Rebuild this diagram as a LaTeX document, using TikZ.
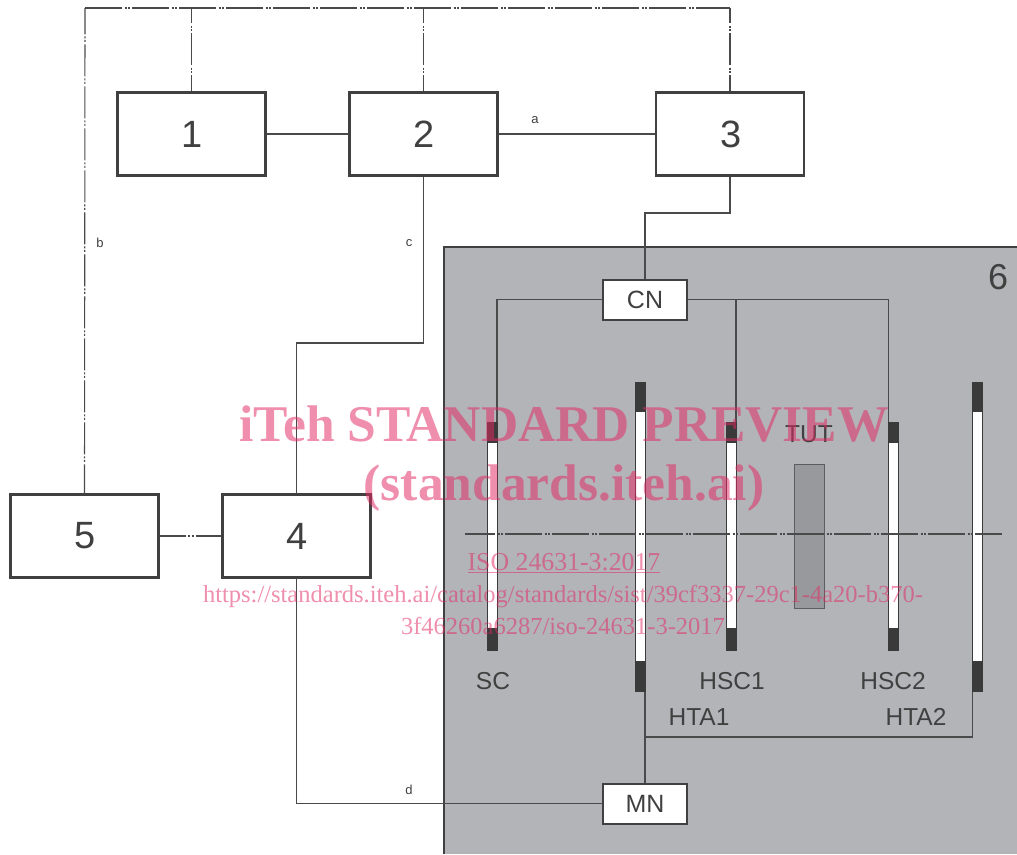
\documentclass[tikz,border=0pt]{standalone}
\usepackage{fontspec}
\setmainfont{Liberation Sans}
\newfontfamily\wmfont{Liberation Serif}
\definecolor{ink}{HTML}{404040}
\definecolor{wire}{HTML}{4A4A4A}
\definecolor{regiongray}{HTML}{B3B4B8}
\definecolor{tutgray}{HTML}{98999C}
\definecolor{wm}{HTML}{E32862}
\tikzset{
  blockbox/.style={draw=ink,line width=2.4pt,fill=white,text=ink,minimum width=148pt,minimum height=83pt,inner sep=0pt,font=\fontsize{38}{40}\selectfont},
  smallbox/.style={draw=ink,line width=2pt,fill=white,text=ink,minimum width=84pt,minimum height=40pt,inner sep=0pt,font=\fontsize{25}{28}\selectfont},
  wire/.style={draw=wire,line width=1.1pt},
  phantomh/.style={draw=wire,line width=1.1pt,dash pattern=on 37pt off 2.5pt on 2pt off 1.5pt on 2pt off 2pt},
  phantomv/.style={draw=wire,line width=1.1pt,dash pattern=on 32pt off 2.5pt on 2pt off 1.5pt on 2pt off 2pt},
  tag/.style={text=ink,inner sep=0pt,font=\fontsize{13}{15}\selectfont},
  devlabel/.style={text=ink,inner sep=0pt,font=\fontsize{24.5}{27}\selectfont},
  caps/.style={fill=ink!90!black},
  wmtext/.style={text=wm,text opacity=0.52,inner sep=0pt,font=\wmfont\fontsize{24.5}{27}\selectfont},
  wmbig/.style={text=wm,text opacity=0.52,inner sep=0pt,font=\wmfont\bfseries\fontsize{51.5}{54}\selectfont}
}
\begin{document}
\begin{tikzpicture}[x=1pt,y=-1pt]
\useasboundingbox (0,0) rectangle (1017,854);
\fill[white] (0,0) rectangle (1017,854);
% enclosure 6
\node[fill=regiongray,minimum width=573pt,minimum height=607pt,inner sep=0pt,outer sep=0pt] (region) at (730.5,550.5) {};
\draw[ink,line width=2pt] (region.south west) -- (region.north west) -- (region.north east);
\node[text=ink,inner sep=0pt,font=\fontsize{36}{38}\selectfont] (six) at (998,277) {6};

% bars
\foreach \nm/\xa/\ya/\yb/\yc/\yd in {sc/487/422/443/628/651,hta1/635/382/412/661/692,hsc1/726/422/443/628/651,hsc2/888/422/443/628/651,hta2/972/382/412/661/692}{
  \fill[ink!90!black] (\xa,\yb) rectangle (\xa+10.5,\yc);
  \fill[white] (\xa+0.8,\yb) rectangle (\xa+9.7,\yc);
  \fill[caps] (\xa,\ya) rectangle (\xa+10.5,\yb);
  \fill[caps] (\xa,\yc) rectangle (\xa+10.5,\yd);
}
\coordinate (scT) at (497,422);
\coordinate (hsc1T) at (736,422);
\coordinate (hsc2T) at (888.5,422);
\coordinate (hta1B) at (645,692);
\coordinate (hta2B) at (972.5,692);
\coordinate (axisL) at (465,534);
\coordinate (axisR) at (1002,534);
\coordinate (topL) at (85,8);
\coordinate (topR) at (730,8);

% TUT
\node[draw=ink!85,line width=1pt,fill=tutgray,minimum width=30pt,minimum height=144pt,inner sep=0pt] (tut) at (809.5,536) {};
\node[devlabel] (tutl) at (809,434) {TUT};
\node[devlabel] (scl) at (493,681) {SC};
\node[devlabel] (hsc1l) at (732,681) {HSC1};
\node[devlabel] (hsc2l) at (893,681) {HSC2};
\node[devlabel] (hta1l) at (699,717) {HTA1};
\node[devlabel] (hta2l) at (916,717) {HTA2};

% axis
\draw[phantomh,dash phase=7pt] (axisL) -- (axisR);

% boxes
\node[blockbox] (b1) at (191.5,134) {\hspace{1.5pt}1};
\node[blockbox] (b2) at (423.5,134) {\hspace{1.5pt}2};
\node[blockbox] (b3) at (730,134) {\hspace{1.5pt}3};
\node[blockbox] (b4) at (296.5,536) {\hspace{1.5pt}4};
\node[blockbox] (b5) at (84.5,536) {\hspace{1.5pt}5};
\node[smallbox] (cn) at (645,299.5) {CN};
\node[smallbox] (mn) at (645,803.5) {MN};

% solid connectors
\draw[wire] (b1.east) -- (b2.west);
\draw[wire] (b2.east) -- (b3.west);
\draw[wire] (b3.south) |- (645,213) -- (cn.north);
\draw[wire] (cn.west) -| (scT);
\draw[wire] (cn.east) -| (hsc2T);
\draw[wire] (hsc1T |- cn.east) -- (hsc1T);
\draw[wire] (b2.south) |- (296.5,343) -- (b4.north);
\draw[wire] (b4.south) |- (mn.west);
\draw[wire] (hta1B) -- (mn.north);
\draw[wire] (645,737) -| (hta2B);

% phantom connectors
\draw[phantomv,dash phase=3pt] (b5.north) -- (topL);
\draw[phantomh] (topL) -- (topR);
\draw[phantomv,dash phase=17pt] (b1.north |- topL) -- (b1.north);
\draw[phantomv,dash phase=17pt] (b2.north |- topL) -- (b2.north);
\draw[phantomv,dash phase=17pt] (topR) -- (b3.north);
\draw[phantomh,dash phase=11pt] (b5.east) -- (b4.west);

\node[tag] (la) at (535,120) {a};
\node[tag] (lb) at (100,243) {b};
\node[tag] (lc) at (409,243) {c};
\node[tag] (ld) at (409,790) {d};

% watermark
\node[wmbig,anchor=base] (w1) at (564,441) {iTeh STANDARD PREVIEW};
\node[wmbig,anchor=base] (w2) at (564,500) {(standards.iteh.ai)};
\node[wmtext,anchor=base,font=\wmfont\fontsize{25.8}{28}\selectfont] (w3) at (564,570) {\underline{ISO 24631-3:2017}};
\node[wmtext,anchor=base] (w4) at (563,602) {https://standards.iteh.ai/catalog/standards/sist/39cf3337-29c1-4a20-b370-};
\node[wmtext,anchor=base] (w5) at (563,634) {3f46260a6287/iso-24631-3-2017};
\end{tikzpicture}
\end{document}
